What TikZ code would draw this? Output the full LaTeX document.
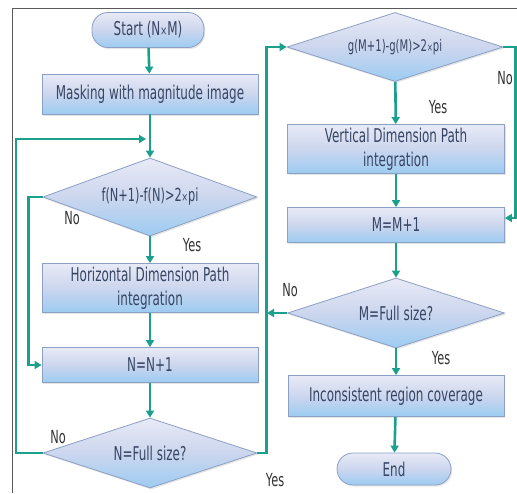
\documentclass[tikz,border=0pt]{standalone}
\usepackage{fontspec}
\usetikzlibrary{shapes.geometric,arrows.meta,shadows,calc}
\newfontfamily\dfont[FakeStretch=0.63]{DejaVu Sans}
\definecolor{flowc}{RGB}{28,160,142}
\definecolor{boxtop}{RGB}{232,234,246}
\definecolor{boxmid}{RGB}{204,214,238}
\definecolor{boxbot}{RGB}{156,204,242}
\definecolor{boxline}{RGB}{140,160,196}
\definecolor{txtc}{RGB}{55,70,100}
\begin{document}
\begin{tikzpicture}[x=1pt,y=-1pt,
  base/.style={draw=boxline, line width=0.8pt, top color=boxtop, bottom color=boxbot, middle color=boxmid,
    text=txtc, font=\dfont\fontsize{19}{24}\selectfont, inner sep=0pt, align=center,
    drop shadow={opacity=0.2, shadow xshift=1.2pt, shadow yshift=-1.5pt}},
  boxnode/.style={base, rectangle, minimum width=216pt},
  termnode/.style={base, rectangle, rounded corners=16pt},
  dianode/.style={base, diamond, aspect=3, minimum width=214pt},
  flow/.style={draw=flowc, line width=2.6pt, -{Triangle[length=7pt,width=8pt]}},
  lbl/.style={text=black!80, font=\dfont\fontsize{18}{20}\selectfont, inner sep=0pt}]
\useasboundingbox (0,0) rectangle (517,493);
\fill[white] (0,0) rectangle (517,493);
\draw[black!65, line width=1pt] (12,493) -- (12,8) -- (517,8);
% left column
\node[termnode, minimum width=112pt, minimum height=35pt] (start) at (148,30) {Start (N{\fontsize{13}{13}\selectfont ×}M)};
\node[boxnode, minimum height=40pt] (mask) at (150,94) {Masking with magnitude image};
\node[dianode, minimum height=78pt, font=\dfont\fontsize{18}{20}\selectfont] (fdia) at (150,197) {f(N+1)-f(N)>2{\fontsize{12}{12}\selectfont ×}pi};
\node[boxnode, minimum height=49pt] (hbox) at (150,288) {Horizontal Dimension Path\\integration};
\node[boxnode, minimum height=35pt] (nbox) at (150,365) {N=N+1};
\node[dianode, minimum height=70pt] (ndia) at (150,453) {N=Full size?};
% right column
\node[dianode, minimum width=216pt, minimum height=69pt, font=\dfont\fontsize{16}{18}\selectfont] (gdia) at (395,47) {g(M+1)-g(M)>2{\fontsize{11}{11}\selectfont ×}pi};
\node[boxnode, minimum width=217pt, minimum height=49pt] (vbox) at (396,149) {Vertical Dimension Path\\integration};
\node[boxnode, minimum width=217pt, minimum height=35pt] (mbox) at (396,225) {M=M+1};
\node[dianode, minimum width=217pt, minimum height=70pt] (mdia) at (396,313) {M=Full size?};
\node[boxnode, minimum height=41pt] (ibox) at (396,396) {Inconsistent region coverage};
\node[termnode, minimum width=114pt, minimum height=32pt] (endn) at (394,469) {End};
% coordinates for loose ends
\coordinate (loopin) at (146,139);
\coordinate (loopcorner) at (16,139);
\coordinate (rin) at (267,313);
\coordinate (mboxin) at ($(mbox.east)+(0,-7)$);
% connectors
\draw[flow] (start) -- (mask);
\draw[flow] (mask) -- (fdia);
\draw[flow] (fdia) -- (hbox);
\draw[flow] (hbox) -- (nbox);
\draw[flow] (nbox) -- (ndia);
\draw[flow] (ndia.west) -| (loopcorner) -- (loopin);
\draw[flow] (fdia.west) -- ++(-14,0) |- (nbox.west);
\draw[flow] (ndia.east) -- ++(9,0) |- (gdia.west);
\draw[flow] (gdia) -- (vbox);
\draw[flow] (vbox) -- (mbox);
\draw[flow] (gdia.east) -- ++(12,0) |- (mboxin);
\draw[flow] (mbox) -- (mdia);
\draw[flow] (mdia.west) -- (rin);
\draw[flow] (mdia) -- (ibox);
\draw[flow] (ibox) -- (endn);
% labels
\node[lbl] (l1) at (72,218) {No};
\node[lbl] (l2) at (192,245) {Yes};
\node[lbl] (l3) at (58,437) {No};
\node[lbl] (l4) at (275,480) {Yes};
\node[lbl] (l5) at (438,107) {Yes};
\node[lbl] (l6) at (505,78) {No};
\node[lbl] (l7) at (290,290) {No};
\node[lbl] (l8) at (441,358) {Yes};
\end{tikzpicture}
\end{document}
